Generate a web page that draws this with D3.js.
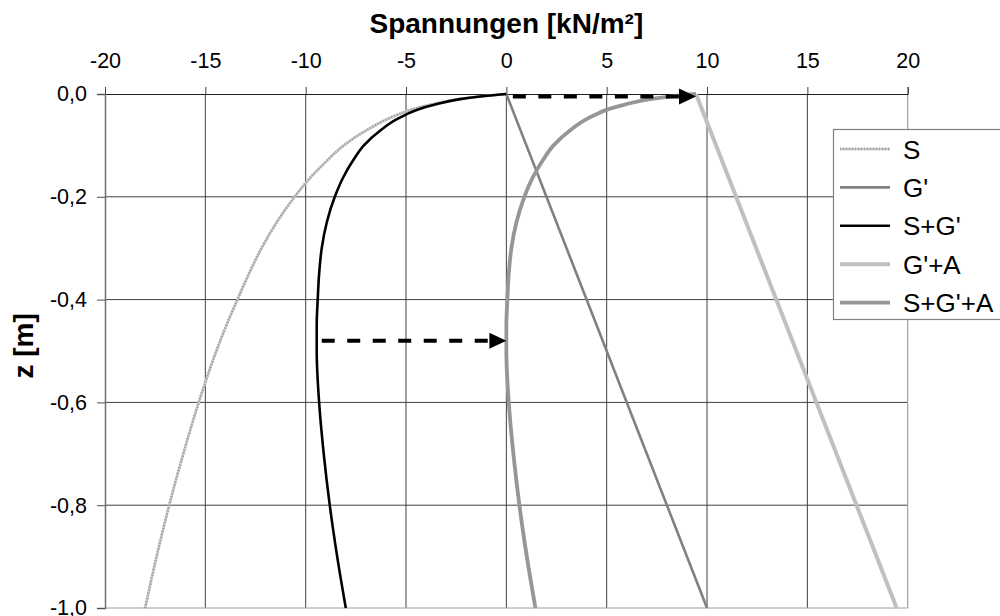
<!DOCTYPE html>
<html>
<head>
<meta charset="utf-8">
<script src="https://cdn.jsdelivr.net/npm/d3@7"></script>
<style>
  html, body { margin: 0; padding: 0; background: #fff; }
  svg { display: block; font-family: "Liberation Sans", Arial, sans-serif; }
</style>
</head>
<body>
<svg id="chart" width="1000" height="616"></svg>
<script>
// Depth below surface [m] (negative downwards)
const depth = [0, -0.005, -0.01, -0.02, -0.03, -0.04, -0.05, -0.07, -0.1, -0.13, -0.16, -0.2,
               -0.25, -0.3, -0.35, -0.4, -0.45, -0.5, -0.6, -0.7, -0.8, -0.9, -1.0];

// Stresses [kN/m²] at each depth
const sS = [0, -1.35, -2.4, -3.7, -4.7, -5.4, -6.0, -6.95, -8.1, -8.95, -9.7, -10.55,
            -11.45, -12.2, -12.83, -13.4, -13.95, -14.45, -15.33, -16.1, -16.8, -17.43, -18.0];
const sSG = [0, -1.3, -2.3, -3.5, -4.4, -5.0, -5.5, -6.25, -7.1, -7.65, -8.1, -8.55,
             -8.95, -9.2, -9.33, -9.4, -9.45, -9.45, -9.33, -9.1, -8.8, -8.43, -8.0];
const sSGA = [9.45, 8.15, 7.15, 5.95, 5.05, 4.45, 3.95, 3.2, 2.35, 1.8, 1.35, 0.9,
              0.5, 0.25, 0.12, 0.05, 0.0, 0.0, 0.12, 0.35, 0.65, 1.02, 1.45];

// Linear series: depth end points and stresses
const depthLin = [0, -1.0];
const sG = [0, 10];
const sGA = [9.45, 19.45];

// Arrows: stress from -> to, at depth
const arrowFrom = [0, -9.2];
const arrowTo = [9.45, 0];
const arrowDepth = [-0.005, -0.48];

// Axis ticks
const xTicks = [-20, -15, -10, -5, 0, 5, 10, 15, 20];
const yTicks = [0, -0.2, -0.4, -0.6, -0.8, -1.0];

const seriesNames = ["S", "G'", "S+G'", "G'+A", "S+G'+A"];

const svg = d3.select("#chart");
const x = d3.scaleLinear().domain([-20, 20]).range([105, 907.7]);
const y = d3.scaleLinear().domain([-1, 0]).range([608, 94]);

const loc = d3.formatLocale({ decimal: ",", thousands: ".", grouping: [3], currency: ["", "€"], minus: "-" });
const fmtX = loc.format("d");
const fmtY = loc.format(".1f");

// Grid
const grid = svg.append("g");
grid.selectAll("line.v").data(xTicks.filter(t => t > -20 && t < 20)).join("line")
  .attr("x1", d => x(d)).attr("x2", d => x(d)).attr("y1", y(0)).attr("y2", y(-1))
  .attr("stroke", "#404040").attr("stroke-width", 1);
grid.selectAll("line.h").data(yTicks.filter(t => t < 0 && t > -1)).join("line")
  .attr("x1", x(-20)).attr("x2", x(20)).attr("y1", d => y(d)).attr("y2", d => y(d))
  .attr("stroke", "#404040").attr("stroke-width", 1);

// Plot frame (right and bottom)
svg.append("path")
  .attr("d", `M${x(20)},${y(0)}V${y(-1)}H${x(-20)}`)
  .attr("fill", "none").attr("stroke", "#a0a0a0").attr("stroke-width", 1.2);

// Axes
const xAxis = svg.append("g").attr("transform", `translate(0,${y(0)})`)
  .call(d3.axisTop(x).tickValues(xTicks).tickFormat(fmtX).tickSize(7).tickPadding(19));
xAxis.select(".domain").attr("stroke", "#202020");
xAxis.selectAll(".tick line").attr("stroke", "#404040");
xAxis.selectAll("text").attr("font-size", 21.5).attr("fill", "#000")
  .attr("font-family", "Liberation Sans, Arial, sans-serif");

const yAxis = svg.append("g").attr("transform", `translate(${x(-20)},0)`)
  .call(d3.axisLeft(y).tickValues(yTicks).tickFormat(fmtY).tickSize(8).tickPadding(10));
yAxis.select(".domain").attr("stroke", "#707070").attr("stroke-width", 1.5);
yAxis.selectAll(".tick line").attr("stroke", "#505050");
yAxis.selectAll("text").attr("font-size", 21.5).attr("fill", "#000")
  .attr("font-family", "Liberation Sans, Arial, sans-serif");

// Titles
svg.append("text").attr("x", x(0)).attr("y", 32.5).attr("text-anchor", "middle")
  .attr("font-size", 28).attr("font-weight", "bold").text("Spannungen [kN/m²]");
svg.append("text").attr("transform", `translate(33,${y(-0.49)}) rotate(-90)`)
  .attr("text-anchor", "middle").attr("font-size", 28).attr("font-weight", "bold").text("z [m]");

// Series lines
const curve = d3.line().x(d => x(d[0])).y(d => y(d[1])).curve(d3.curveMonotoneY);
const pairs = (xs, zs) => xs.map((v, i) => [v, zs[i]]);

const styles = [
  { data: pairs(sS, depth), color: "#c8c8c8", width: 2.6, overlay: "#9c9c9c" },
  { data: pairs(sG, depthLin), color: "#808080", width: 2.6 },
  { data: pairs(sSG, depth), color: "#000000", width: 2.6 },
  { data: pairs(sGA, depthLin), color: "#c0c0c0", width: 4 },
  { data: pairs(sSGA, depth), color: "#969696", width: 3.8 }
];

const lines = svg.append("g");
styles.forEach(s => {
  lines.append("path").attr("d", curve(s.data)).attr("fill", "none")
    .attr("stroke", s.color).attr("stroke-width", s.width).attr("stroke-linejoin", "round");
  if (s.overlay) {
    lines.append("path").attr("d", curve(s.data)).attr("fill", "none")
      .attr("stroke", s.overlay).attr("stroke-width", s.width).attr("stroke-dasharray", "1,2");
  }
});

// Dashed arrows
const arrows = svg.append("g");
arrowFrom.forEach((x0, i) => {
  const yy = y(arrowDepth[i]);
  const xa = x(x0), xb = x(arrowTo[i]);
  const head = 17, half = 8;
  arrows.append("line").attr("x1", xa).attr("x2", xb - head + 2).attr("y1", yy).attr("y2", yy)
    .attr("stroke", "#000").attr("stroke-width", 4)
    .attr("stroke-dasharray", "13,12.5").attr("stroke-dashoffset", i === 0 ? 19 : 0);
  arrows.append("path")
    .attr("d", `M${xb},${yy}L${xb - head},${yy - half}L${xb - head},${yy + half}Z`)
    .attr("fill", "#000");
});

// Legend
const lg = svg.append("g");
lg.append("rect").attr("x", 833.5).attr("y", 129.5).attr("width", 200).attr("height", 190)
  .attr("fill", "#fff").attr("stroke", "#808080").attr("stroke-width", 1.2);
seriesNames.forEach((name, i) => {
  const ly = 149 + i * 38.4;
  const s = styles[i];
  lg.append("line").attr("x1", 840).attr("x2", 890).attr("y1", ly).attr("y2", ly)
    .attr("stroke", s.color).attr("stroke-width", s.width);
  if (s.overlay) {
    lg.append("line").attr("x1", 840).attr("x2", 890).attr("y1", ly).attr("y2", ly)
      .attr("stroke", s.overlay).attr("stroke-width", s.width).attr("stroke-dasharray", "1,2");
  }
  lg.append("text").attr("x", 903).attr("y", ly + 9.5).attr("font-size", 26).text(name);
});
</script>
</body>
</html>
